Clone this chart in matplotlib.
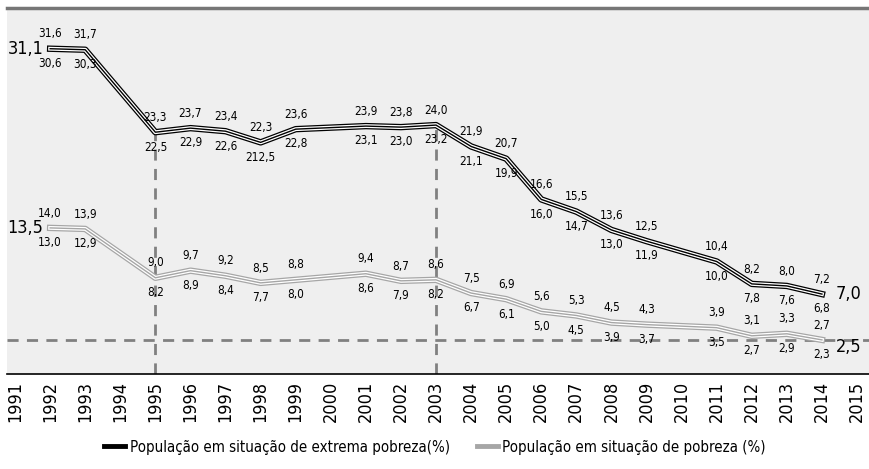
import numpy as np
import matplotlib
matplotlib.use('Agg')
import matplotlib.pyplot as plt
from matplotlib.lines import Line2D

plt.rcParams['font.family'] = ['DejaVu Sans']
plt.rcParams['font.stretch'] = 'condensed'

years = [1992, 1993, 1995, 1996, 1997, 1998, 1999, 2001, 2002, 2003, 2004,
         2005, 2006, 2007, 2008, 2009, 2011, 2012, 2013, 2014]

# extrema pobreza: limite superior / inferior
ext_upper = [31.6, 31.7, 23.3, 23.7, 23.4, 22.3, 23.6, 23.9, 23.8, 24.0, 21.9,
             20.7, 16.6, 15.5, 13.6, 12.5, 10.4, 8.2, 8.0, 7.2]
ext_lower = [30.6, 30.3, 22.5, 22.9, 22.6, 21.5, 22.8, 23.1, 23.0, 23.2, 21.1,
             19.9, 16.0, 14.7, 13.0, 11.9, 10.0, 7.8, 7.6, 6.8]

# pobreza: limite superior / inferior
pob_upper = [14.0, 13.9, 9.0, 9.7, 9.2, 8.5, 8.8, 9.4, 8.7, 8.6, 7.5,
             6.9, 5.6, 5.3, 4.5, 4.3, 3.9, 3.1, 3.3, 2.7]
pob_lower = [13.0, 12.9, 8.2, 8.9, 8.4, 7.7, 8.0, 8.6, 7.9, 8.2, 6.7,
             6.1, 5.0, 4.5, 3.9, 3.7, 3.5, 2.7, 2.9, 2.3]

# label as printed in the original (typo kept)
label_override = {('ext_lower', 1998): '212,5'}

tick_years = list(range(1991, 2016))
ref_years = [1995, 2003]
ref_level = 2.5


def fmt(v):
    return ('%.1f' % v).replace('.', ',')


ext_mid = (np.array(ext_upper) + np.array(ext_lower)) / 2
pob_mid = (np.array(pob_upper) + np.array(pob_lower)) / 2

fig = plt.figure(figsize=(8.70, 4.69), dpi=100)
ax = fig.add_axes([7 / 870, 95 / 469, 863 / 870, 366 / 469])
ax.set_facecolor('#efefef')
ax.set_xlim(1990.77, 2015.37)
ax.set_ylim(-0.85, 35.1)

dash_kw = dict(color='#808080', lw=2, dashes=(4, 3), zorder=1)
ax.axhline(ref_level, **dash_kw)
for yr in ref_years:
    y_top = ext_mid[years.index(yr)]
    ax.plot([yr, yr], [-0.85, y_top], **dash_kw)


def triple_line(y, outer):
    ax.plot(years, y, color=outer, lw=4.6, solid_joinstyle='round', zorder=3)
    ax.plot(years, y, color='white', lw=2.8, solid_joinstyle='round', zorder=4)
    ax.plot(years, y, color=outer, lw=1.0, solid_joinstyle='round', zorder=5)


triple_line(ext_mid, 'black')
triple_line(pob_mid, '#a6a6a6')

lab_kw = dict(textcoords='offset points', ha='center', fontsize=8.5, zorder=6)
for name_u, name_l, up, lo, mid in [('ext_upper', 'ext_lower', ext_upper, ext_lower, ext_mid),
                                    ('pob_upper', 'pob_lower', pob_upper, pob_lower, pob_mid)]:
    for i, yr in enumerate(years):
        ax.annotate(label_override.get((name_u, yr), fmt(up[i])), (yr, mid[i]),
                    xytext=(0, 6), va='bottom', **lab_kw)
        ax.annotate(label_override.get((name_l, yr), fmt(lo[i])), (yr, mid[i]),
                    xytext=(0, -6), va='top', **lab_kw)

# end labels
big_kw = dict(textcoords='offset points', fontsize=13, va='center', zorder=6)
ax.annotate(fmt(ext_mid[0]), (years[0], ext_mid[0]), xytext=(-5, 0), ha='right', **big_kw)
ax.annotate(fmt(pob_mid[0]), (years[0], pob_mid[0]), xytext=(-5, 0), ha='right', **big_kw)
ax.annotate(fmt(ext_mid[-1]), (years[-1], ext_mid[-1]), xytext=(10, 0), ha='left', **big_kw)
ax.annotate(fmt(pob_mid[-1]), (years[-1], pob_mid[-1]), xytext=(10, -5), ha='left', **big_kw)

ax.set_xticks(tick_years)
ax.set_xticklabels([str(t) for t in tick_years], rotation=90, fontsize=13)
ax.tick_params(axis='x', length=0, pad=5)
ax.set_yticks([])

for s in ['left', 'right']:
    ax.spines[s].set_visible(False)
ax.spines['top'].set_color('#767676')
ax.spines['top'].set_linewidth(2.5)
ax.spines['bottom'].set_color('black')
ax.spines['bottom'].set_linewidth(1.2)

handles = [Line2D([], [], color='black', lw=3.5),
           Line2D([], [], color='#a6a6a6', lw=3.5)]
fig.legend(handles, ['População em situação de extrema pobreza(%)',
                     'População em situação de pobreza (%)'],
           loc='center', bbox_to_anchor=(0.5, 22 / 469), ncol=2, frameon=False,
           fontsize=10.8, handlelength=1.4, handletextpad=0.3, columnspacing=1.8)

fig.savefig('out.png', dpi=100)
